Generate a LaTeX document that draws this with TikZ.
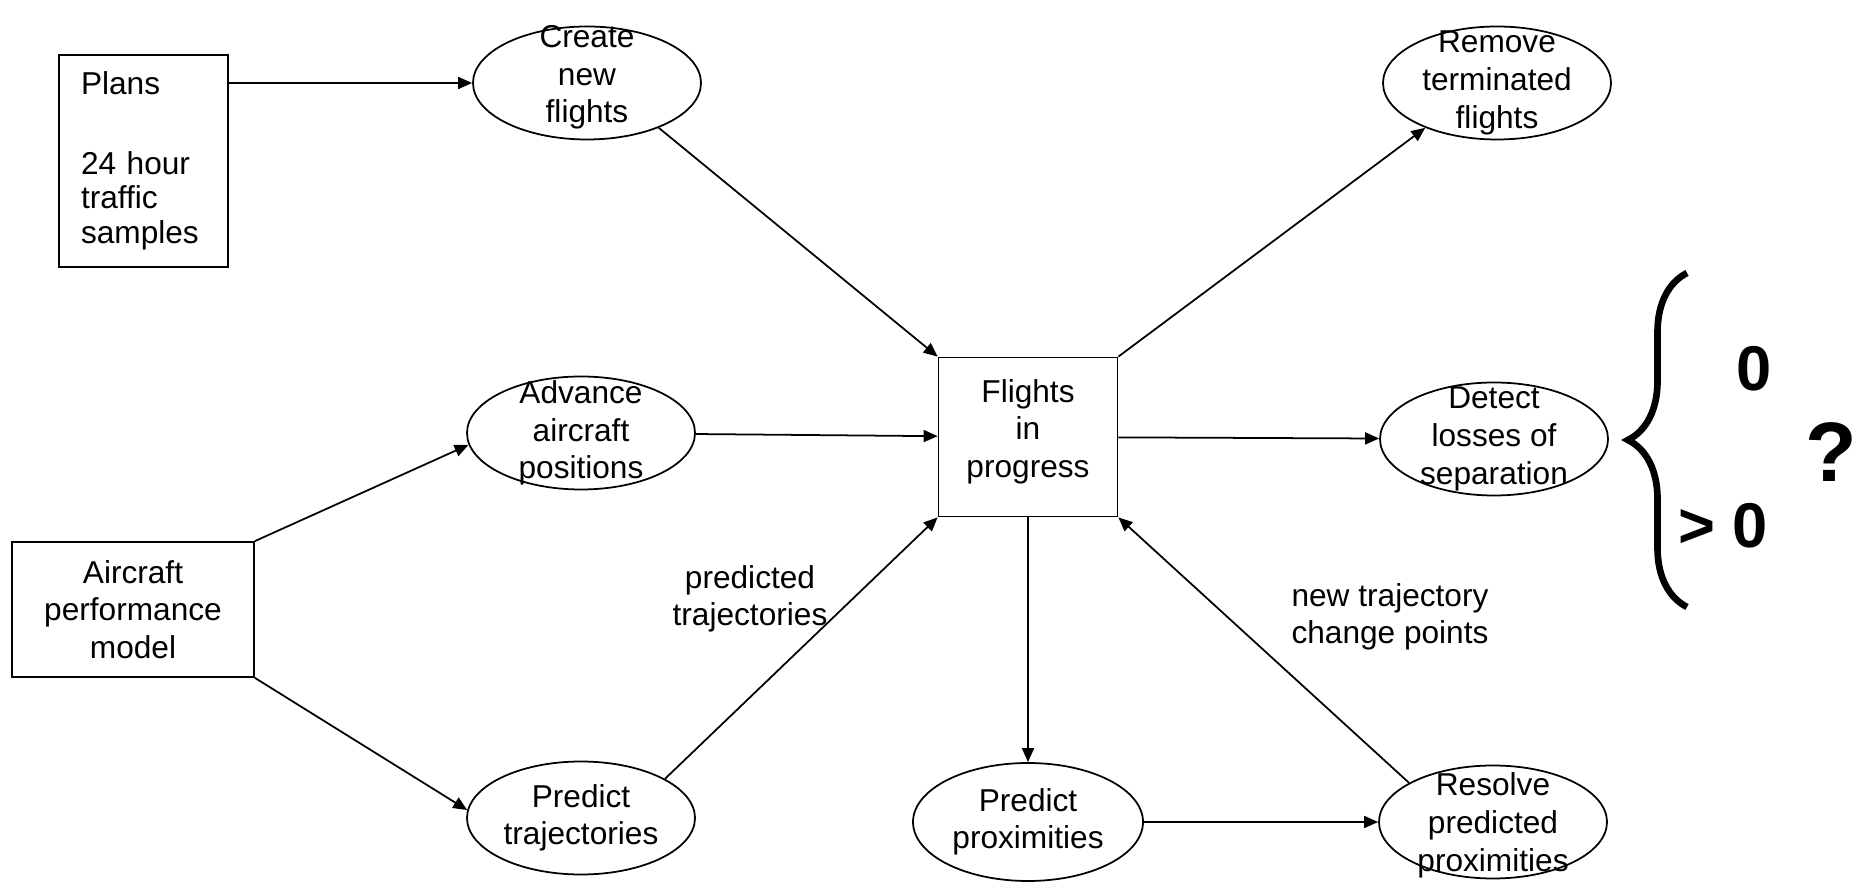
\documentclass[tikz,border=0pt]{standalone}
\usepackage{fontspec}
\setmainfont{Liberation Sans}
\usetikzlibrary{shapes.geometric,arrows.meta,decorations.pathreplacing}

\begin{document}
\begin{tikzpicture}[
    font=\fontsize{9}{10.7}\selectfont,
    line width=0.5pt,
    proc/.style={ellipse,draw,align=center,inner xsep=0pt,inner ysep=-0.2cm,
      minimum width=2.28cm,minimum height=1.13cm},
    store/.style={rectangle,draw,align=center},
    flow/.style={-{Triangle[length=0.14cm,width=0.12cm]}},
    big/.style={font=\fontsize{18}{20}\selectfont\bfseries}]
  \useasboundingbox (0,0) rectangle (18.59,8.95);

  % stores of flights and plans
  \node[store,align=left,text width=1.25cm,inner xsep=0.22cm,minimum height=2.12cm,
    font=\fontsize{9}{9.9}\selectfont] (plans) at (1.435,7.34)
    {Plans\\[12.7pt]24 hour\\traffic\\samples};
  \node[store,minimum width=2.42cm,minimum height=1.35cm] (aircraft) at (1.33,2.855)
    {Aircraft\\performance\\model};
  \node[store,minimum width=1.79cm,minimum height=1.59cm,text depth=5pt] (flights)
    at (10.28,4.58) {Flights\\in\\progress};

  % processes
  \node[proc,text depth=5pt] (create) at (5.87,8.12) {Create\\new\\flights};
  \node[proc] (remove) at (14.97,8.12) {Remove\\terminated\\flights};
  \node[proc] (advance) at (5.81,4.62) {Advance\\aircraft\\positions};
  \node[proc] (detect) at (14.94,4.56) {Detect\\losses of\\separation};
  \node[proc] (predtraj) at (5.81,0.77) {Predict\\trajectories};
  \node[proc,minimum width=2.3cm,minimum height=1.18cm] (predprox) at (10.28,0.73)
    {Predict\\proximities};
  \node[proc,text depth=0pt] (resolve) at (14.93,0.73) {Resolve\\predicted\\proximities};

  % flows
  \draw[flow] (plans.east |- create) -- (create);
  \draw[flow] (create.328) -- (flights.north west);
  \draw[flow] (flights.north east) -- (remove.212);
  \draw[flow] (advance) -- (flights);
  \draw[flow] (flights) -- (detect);
  \draw[flow] (aircraft.north east) -- (advance.186);
  \draw[flow] (aircraft.south east) -- (predtraj.176);
  \draw[flow] (predtraj.25) -- (flights.south west);
  \draw[flow] (flights) -- (predprox);
  \draw[flow] (predprox) -- (resolve);
  \draw[flow] (resolve.155) -- (flights.south east);

  \node[align=center] (predlbl) at (7.50,2.96) {predicted\\trajectories};
  \node[align=center] (newlbl) at (13.90,2.78) {new trajectory\\change points};

  % outcome of the detection
  \coordinate (brbot) at (16.87,2.88);
  \coordinate (brtop) at (16.87,6.22);
  \draw[line width=1.9pt,decorate,decoration={brace,amplitude=0.59cm}] (brbot) -- (brtop);
  \node[big] (zero) at (17.54,5.26) {0};
  \node[big] (more) at (17.23,3.69) {> 0};
  \node[big,font=\fontsize{24}{26}\selectfont\bfseries] (query) at (18.31,4.43) {?};
\end{tikzpicture}
\end{document}
